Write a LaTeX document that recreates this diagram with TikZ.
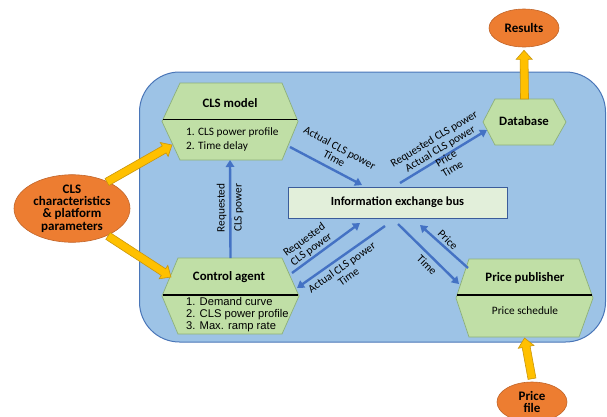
\documentclass[tikz,border=0pt]{standalone}
\usepackage{fontspec}
\setmainfont{Carlito}
\newfontfamily\arialfont{Liberation Sans}
\usetikzlibrary{arrows.meta,calc,shapes.geometric}
\definecolor{bgblue}{HTML}{9DC3E6}
\definecolor{bgborder}{HTML}{4A76B8}
\definecolor{hexfill}{HTML}{C0DFA6}
\definecolor{hexborder}{HTML}{8DB07A}
\definecolor{orangefill}{HTML}{ED7D31}
\definecolor{orangeborder}{HTML}{C0652A}
\definecolor{busfill}{HTML}{E2EFDA}
\definecolor{busborder}{HTML}{3B5C9A}
\definecolor{arrowblue}{HTML}{4472C4}
\definecolor{yfill}{HTML}{FFC000}
\definecolor{yborder}{HTML}{C9960C}
\newcommand\blockarrow[2]{%
  \coordinate (ba-s) at (#1);
  \coordinate (ba-t) at (#2);
  \coordinate (ba-h) at ($(ba-t)!9pt!(ba-s)$);
  \draw[yarrow] ($(ba-s)!4pt!90:(ba-t)$) -- ($(ba-h)!4pt!-90:(ba-s)$) -- ($(ba-h)!8pt!-90:(ba-s)$) -- (ba-t) -- ($(ba-h)!8pt!90:(ba-s)$) -- ($(ba-h)!4pt!90:(ba-s)$) -- ($(ba-s)!4pt!-90:(ba-t)$) -- cycle;}
\newcommand\hexagon[3]{%
  \draw[hexline] (#1.west) -- ([xshift=#2]#1.north west) -- ([xshift=-#3]#1.north east) -- (#1.east) -- ([xshift=-#3]#1.south east) -- ([xshift=#2]#1.south west) -- cycle;}
\begin{document}
\begin{tikzpicture}[x=1pt,y=-1pt,
  hexbox/.style={inner sep=0pt, outer sep=0pt},
  hexline/.style={draw=hexborder, fill=hexfill, line width=0.7pt},
  divider/.style={draw=black, line width=1.2pt},
  title/.style={font=\fontsize{12.8}{14}\selectfont\bfseries, inner sep=0pt},
  item/.style={font=\fontsize{11.3}{14}\selectfont, align=left, inner sep=0pt},
  arialitem/.style={font=\arialfont\fontsize{11.2}{11.6}\selectfont, align=left, inner sep=0pt},
  lab/.style={font=\fontsize{11.3}{11.8}\selectfont, align=center, inner sep=0pt},
  flow/.style={draw=arrowblue, line width=2.4pt, -{Triangle[length=7pt,width=8.5pt]}},
  oval/.style={ellipse, draw=orangeborder, fill=orangefill, line width=0.6pt, inner sep=0pt,
     font=\fontsize{13}{12.4}\selectfont\bfseries, align=center},
  yarrow/.style={draw=yborder, fill=yfill, line width=0.6pt, line join=miter},
  platform/.style={draw=bgborder, fill=bgblue, line width=1pt, rounded corners=40pt, inner sep=0pt},
  bus/.style={draw=busborder, fill=busfill, line width=0.8pt, inner sep=0pt,
     font=\fontsize{12.4}{14}\selectfont\bfseries}]
\useasboundingbox (0,0) rectangle (607,416);

% platform
\node[platform, minimum width=466pt, minimum height=270pt] (plat) at (372.5,207) {};

% hexagon boxes
\node[hexbox, minimum width=136pt, minimum height=77pt] (cls) at (230,121.5) {};
\hexagon{cls}{18pt}{16pt}
\draw[divider] ($(cls.west)+(1,-2)$) -- ($(cls.east)+(-1,-2)$);
\node[title] (clsT) at (230,103) {CLS model};
\node[item, anchor=west] (clsI) at (186,139) {1. CLS power profile\\2. Time delay};

\node[hexbox, minimum width=137pt, minimum height=76pt] (ca) at (230.5,296) {};
\hexagon{ca}{16pt}{17pt}
\draw[divider] ($(ca.west)+(1,-1)$) -- ($(ca.east)+(-1,-1)$);
\node[title] (caT) at (229,277) {Control agent};
\node[arialitem, anchor=west] (caI) at (186,314.5) {1. Demand curve\\2. CLS power profile\\3. Max. ramp rate};

\node[hexbox, minimum width=137pt, minimum height=78pt] (pp) at (524.5,298) {};
\hexagon{pp}{13pt}{14pt}
\draw[divider] ($(pp.west)+(1,-3)$) -- ($(pp.east)+(-1,-3)$);
\node[title] (ppT) at (525,278) {Price publisher};
\node[item] (ppI) at (525,311) {Price schedule};

\node[hexbox, minimum width=83pt, minimum height=46pt] (db) at (524.5,122) {};
\hexagon{db}{12pt}{13pt}
\node[title] (dbT) at (524,121) {Database};

% bus
\node[bus, minimum width=219pt, minimum height=31pt] (bus) at (397.5,202.5) {Information exchange bus};

% ellipses
\node[oval, minimum width=70pt, minimum height=38pt] (res) at (524,28) {Results};
\node[oval, minimum width=70pt, minimum height=40pt] (pf) at (532,402) {Price\\file};
\node[oval, minimum width=116pt, minimum height=58pt] (chr) at (72,208.5) {CLS\\characteristics\\\& platform\\parameters};

% yellow block arrows
\coordinate (y1s) at (107,182);
\coordinate (y1t) at (172,145);
\coordinate (y2s) at (108,236);
\coordinate (y2t) at (171,277);
\blockarrow{y1s}{y1t}
\blockarrow{y2s}{y2t}
\blockarrow{db.north}{$(res.south)+(0,3)$}
\blockarrow{$(pf.north)+(0,-3)$}{$(pp.south)+(0,1)$}

% blue flows
\coordinate (f1s) at (290,147);  \coordinate (f1t) at (362,185);
\coordinate (f2s) at (400,183);  \coordinate (f2t) at (487,130);
\coordinate (f4s) at (292,273);  \coordinate (f4t) at (360,223);
\coordinate (f5s) at (385,226);  \coordinate (f5t) at (297,288);
\coordinate (f6s) at (398,224);  \coordinate (f6t) at (459,284);
\coordinate (f7s) at (468,268);  \coordinate (f7t) at (420,225);
\draw[flow] (f1s) -- (f1t);
\draw[flow] (f2s) -- (f2t);
\draw[flow] (ca.north) -- (cls.south);
\draw[flow] (f4s) -- (f4t);
\draw[flow] (f5s) -- (f5t);
\draw[flow] (f6s) -- (f6t);
\draw[flow] (f7s) -- (f7t);

% labels
\node[lab, rotate=-28] (l1) at (337,153) {Actual CLS power\\Time};
\node[lab, rotate=31] (l2) at (443,153.5) {Requested CLS power\\Actual CLS power\\Price\\Time};
\node[lab, rotate=90, font=\fontsize{11.3}{17}\selectfont] (l3) at (230,208) {Requested\\CLS power};
\node[lab, rotate=36] (l4) at (308,245) {Requested\\CLS power};
\node[lab, rotate=35] (l5) at (345,272) {Actual CLS power\\Time};
\node[lab, rotate=-45] (l6) at (427,265) {Time};
\node[lab, rotate=-45] (l7) at (448,240) {Price};
\end{tikzpicture}
\end{document}
